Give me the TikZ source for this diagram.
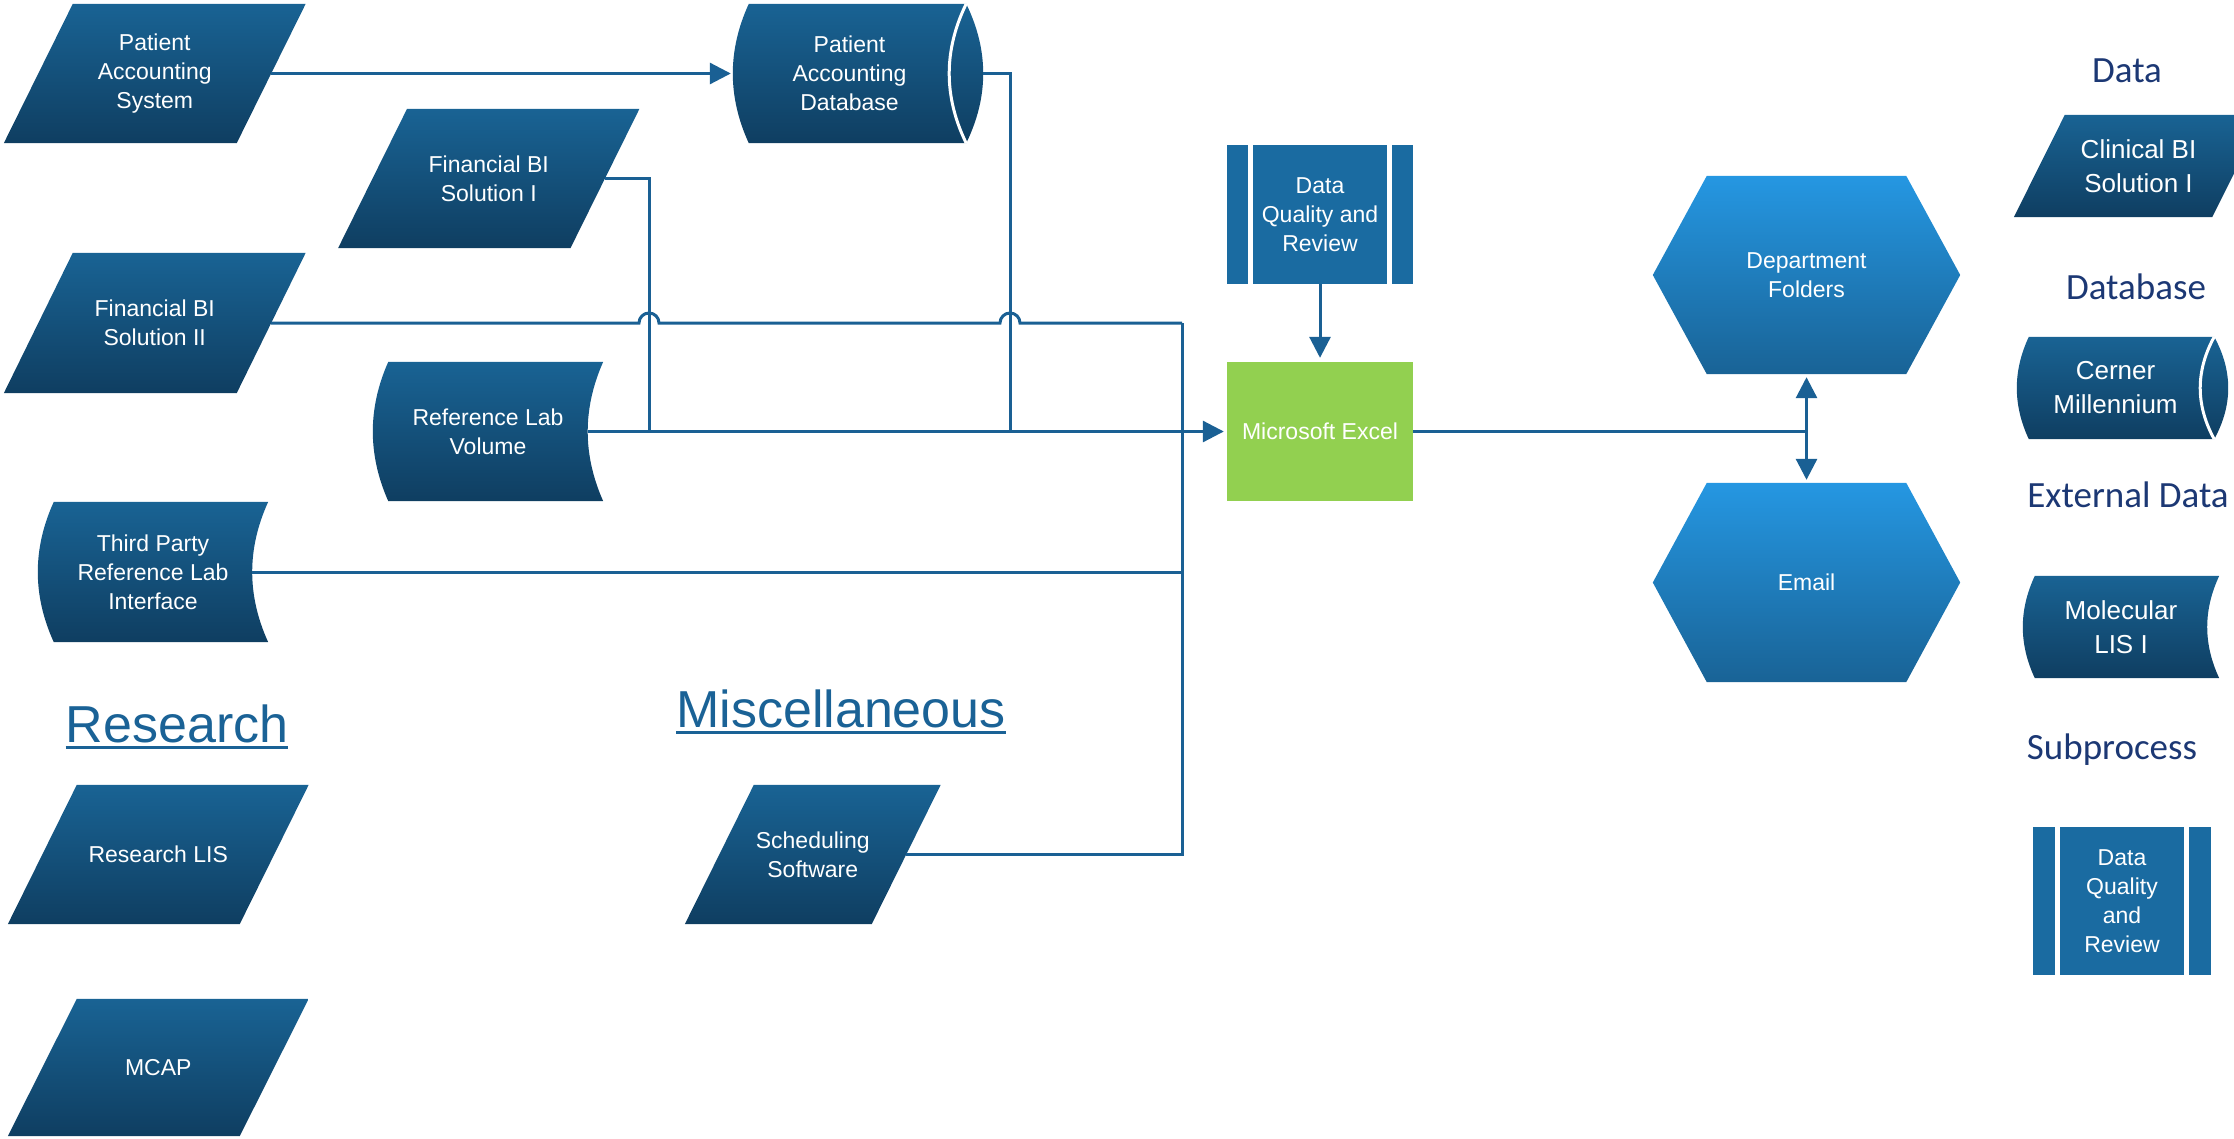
\documentclass[tikz,border=0pt]{standalone}
\usepackage{fontspec}
\setmainfont{Liberation Sans}
\newfontfamily\legendfont{Carlito}
\usetikzlibrary{arrows.meta,backgrounds,calc}

\definecolor{dataTop}{RGB}{25,99,148}
\definecolor{dataBot}{RGB}{15,62,97}
\definecolor{hexTop}{RGB}{37,151,226}
\definecolor{hexBot}{RGB}{25,99,150}
\definecolor{subFill}{RGB}{26,107,161}
\definecolor{excelGreen}{RGB}{146,208,80}
\definecolor{lineBlue}{RGB}{26,96,148}
\definecolor{headBlue}{RGB}{26,98,150}
\definecolor{navy}{RGB}{28,56,116}

\tikzset{
  nodebox/.style 2 args={minimum width=#1pt, minimum height=#2pt},
  nodetext/.style={text=white, align=center, inner sep=0pt,
    font=\fontsize{23}{29}\selectfont},
  legendtext/.style={text=white, align=center, inner sep=0pt,
    font=\fontsize{26}{34}\selectfont},
  legendhead/.style={text=navy, anchor=base, inner sep=0pt,
    font=\legendfont\fontsize{37}{44}\selectfont},
  sectionhead/.style={text=headBlue, anchor=base, inner sep=0pt,
    font=\fontsize{52}{60}\selectfont},
  sectionline/.style={draw=headBlue, line width=3pt},
  conn/.style={draw=lineBlue, line width=3pt},
  tipend/.style={-{Triangle[length=21pt,width=21pt]}},
  tipboth/.style={{Triangle[length=21pt,width=21pt]}-{Triangle[length=21pt,width=21pt]}},
  datashade/.style={top color=dataTop, bottom color=dataBot},
  hexshade/.style={top color=hexTop, bottom color=hexBot},
}

% parallelogram (data) around a node: #1 name, #2 horizontal slant
\newcommand\ParaShape[2]{%
  \shade[datashade]
    ([xshift={#2*0.5pt}]#1.north west) -- ([xshift={#2*0.5pt}]#1.north east) --
    ([xshift={-#2*0.5pt}]#1.south east) -- ([xshift={-#2*0.5pt}]#1.south west) -- cycle;}

% helper points one third / two thirds down a vertical side of a node
\newcommand\SideAt[4]{($(#1.north #2)!#3!(#1.south #2)+(#4,0)$)}

% stored data: convex left side, concave right side; #2 bulge
\newcommand\StoredShape[2]{%
  \shade[datashade]
    ([xshift={#2*1pt}]#1.north west) -- (#1.north east)
    .. controls \SideAt{#1}{east}{0.3333}{-#2*4/3} and \SideAt{#1}{east}{0.6667}{-#2*4/3} ..
    (#1.south east) -- ([xshift={#2*1pt}]#1.south west)
    .. controls \SideAt{#1}{west}{0.6667}{-#2/3} and \SideAt{#1}{west}{0.3333}{-#2/3} ..
    ([xshift={#2*1pt}]#1.north west) -- cycle;}

% direct access storage: #2 left bulge, #3 end cap half width
\newcommand\DriveShape[3]{%
  \shade[datashade]
    ([xshift={#2*1pt}]#1.north west) -- (#1.north east)
    .. controls \SideAt{#1}{east}{0.3333}{#3*4/3} and \SideAt{#1}{east}{0.6667}{#3*4/3} ..
    (#1.south east) -- ([xshift={#2*1pt}]#1.south west)
    .. controls \SideAt{#1}{west}{0.6667}{-#2/3} and \SideAt{#1}{west}{0.3333}{-#2/3} ..
    ([xshift={#2*1pt}]#1.north west) -- cycle;
  \draw[white, line width=3pt]
    (#1.north east)
    .. controls \SideAt{#1}{east}{0.3333}{-#3*4/3} and \SideAt{#1}{east}{0.6667}{-#3*4/3} ..
    (#1.south east);}

% hexagon (display); #2 inset of the flat sides
\newcommand\HexShape[2]{%
  \shade[hexshade]
    ([xshift={#2*1pt}]#1.north west) -- ([xshift={-#2*1pt}]#1.north east) -- (#1.east) --
    ([xshift={-#2*1pt}]#1.south east) -- ([xshift={#2*1pt}]#1.south west) -- (#1.west) -- cycle;}

% predefined process; #2 width of the side bars
\newcommand\SubShape[2]{%
  \fill[subFill] (#1.north west) rectangle (#1.south east);
  \draw[white, line width=5pt]
    ([xshift={#2*1pt}]#1.north west) -- ([xshift={#2*1pt}]#1.south west)
    ([xshift={-#2*1pt}]#1.north east) -- ([xshift={-#2*1pt}]#1.south east);}

\begin{document}
\begin{tikzpicture}[x=1pt, y=-1pt]
\useasboundingbox (0,0) rectangle (2234,1138);

% ---- flow nodes
\node[nodetext, nodebox={232.5}{139}] (pas)   at (154.75,73.5)  {Patient\\Accounting\\System};
\node[nodetext, nodebox={233}{139}]   (pad)   at (849.5,73.5)   {Patient\\Accounting\\Database};
\node[nodetext, nodebox={232}{139}]   (fbi1)  at (488.75,178.5) {Financial BI\\Solution I};
\node[nodetext, nodebox={232.5}{140}] (fbi2)  at (154.75,323)   {Financial BI\\Solution II};
\node[nodetext, nodebox={230}{139}]   (rlv)   at (488,431.5)    {Reference Lab\\Volume};
\node[nodetext, nodebox={230}{140}]   (tpi)   at (153,572)      {Third Party\\Reference Lab\\Interface};
\node[nodetext, nodebox={186}{139}]   (dqr)   at (1320,214.5)   {Data\\Quality and\\Review};
\node[nodetext, nodebox={186}{139}, fill=excelGreen] (excel) at (1320,431.5) {Microsoft Excel};
\node[nodetext, nodebox={307}{198}]   (dept)  at (1806.5,275)   {Department\\Folders};
\node[nodetext, nodebox={307}{199}]   (email) at (1806.5,582.5) {Email};
\node[nodetext, nodebox={231.5}{139}] (rlis)  at (158.25,854.5) {Research LIS};
\node[nodetext, nodebox={231.5}{137}] (mcap)  at (158.25,1067.5) {MCAP};
\node[nodetext, nodebox={186.5}{139}] (sched) at (812.75,854.5) {Scheduling\\Software};

% ---- section headings
\node[sectionhead] (hres)  at (177,742)   {Research};
\node[sectionhead] (hmisc) at (841,727.6) {Miscellaneous};
\draw[sectionline] ([yshift=-5pt]hres.base west) -- ([yshift=-5pt]hres.base east);
\draw[sectionline] ([yshift=-5pt]hmisc.base west) -- ([yshift=-5pt]hmisc.base east);

% ---- legend
\node[legendhead] (lgdata) at (2127,82)  {Data};
\node[legendtext, nodebox={198}{102}] (lgclin) at (2138.5,166) {Clinical BI\\Solution I};
\node[legendhead] (lgdb)   at (2136,299) {Database};
\node[legendtext, nodebox={197}{102}] (lgcern) at (2115.5,388) {Cerner\\Millennium};
\node[legendhead] (lgext)  at (2128,507) {External Data};
\node[legendtext, nodebox={196}{102}] (lgmol)  at (2121,627) {Molecular\\LIS I};
\node[legendhead] (lgsub)  at (2112,759) {Subprocess};
\node[nodetext, nodebox={178}{148}]   (lgdqr)  at (2122,901) {Data\\Quality\\and\\Review};

% ---- shapes behind the labels
\begin{pgfonlayer}{background}
  \ParaShape{pas}{69}
  \ParaShape{fbi1}{69}
  \ParaShape{fbi2}{69}
  \ParaShape{rlis}{69}
  \ParaShape{mcap}{69}
  \ParaShape{sched}{69}
  \ParaShape{lgclin}{51}
  \DriveShape{pad}{16}{17}
  \DriveShape{lgcern}{12}{14}
  \StoredShape{rlv}{15.5}
  \StoredShape{tpi}{16}
  \StoredShape{lgmol}{12}
  \SubShape{dqr}{24}
  \SubShape{lgdqr}{25}
  \HexShape{dept}{54}
  \HexShape{email}{54}
\end{pgfonlayer}

% ---- connectors
\coordinate (m1) at (649,431.5);
\coordinate (m2) at (1010,431.5);
\coordinate (m3) at (1182,323);
\coordinate (padout) at ([xshift=17pt]pad.east);
\coordinate (rlvout) at ([xshift=-15.5pt]rlv.east);
\coordinate (tpiout) at ([xshift=-16pt]tpi.east);

\draw[conn, tipend, shorten >=2pt] (pas.east) -- (pad.west);
\draw[conn] (fbi1.east) -| (m1);
\draw[conn] (padout) -| (m2);
\draw[conn] (fbi2.east) -- ([xshift=-10pt]fbi2.east -| m1)
  arc[start angle=180, end angle=0, radius=10pt]
  -- ([xshift=-10pt]fbi2.east -| m2)
  arc[start angle=180, end angle=0, radius=10pt]
  -- (m3);
\draw[conn] (sched.east) -| (m3);
\draw[conn] (tpiout) -- (tpiout -| m3);
\draw[conn, tipend, shorten >=3pt] (rlvout) -- (excel.west);
\draw[conn, tipend, shorten >=4pt] (dqr.south) -- (excel.north);
\draw[conn] (excel.east) -- (excel.east -| dept.south);
\draw[conn, tipboth, shorten <=3pt, shorten >=3pt] (dept.south) -- (email.north);
\end{tikzpicture}
\end{document}
